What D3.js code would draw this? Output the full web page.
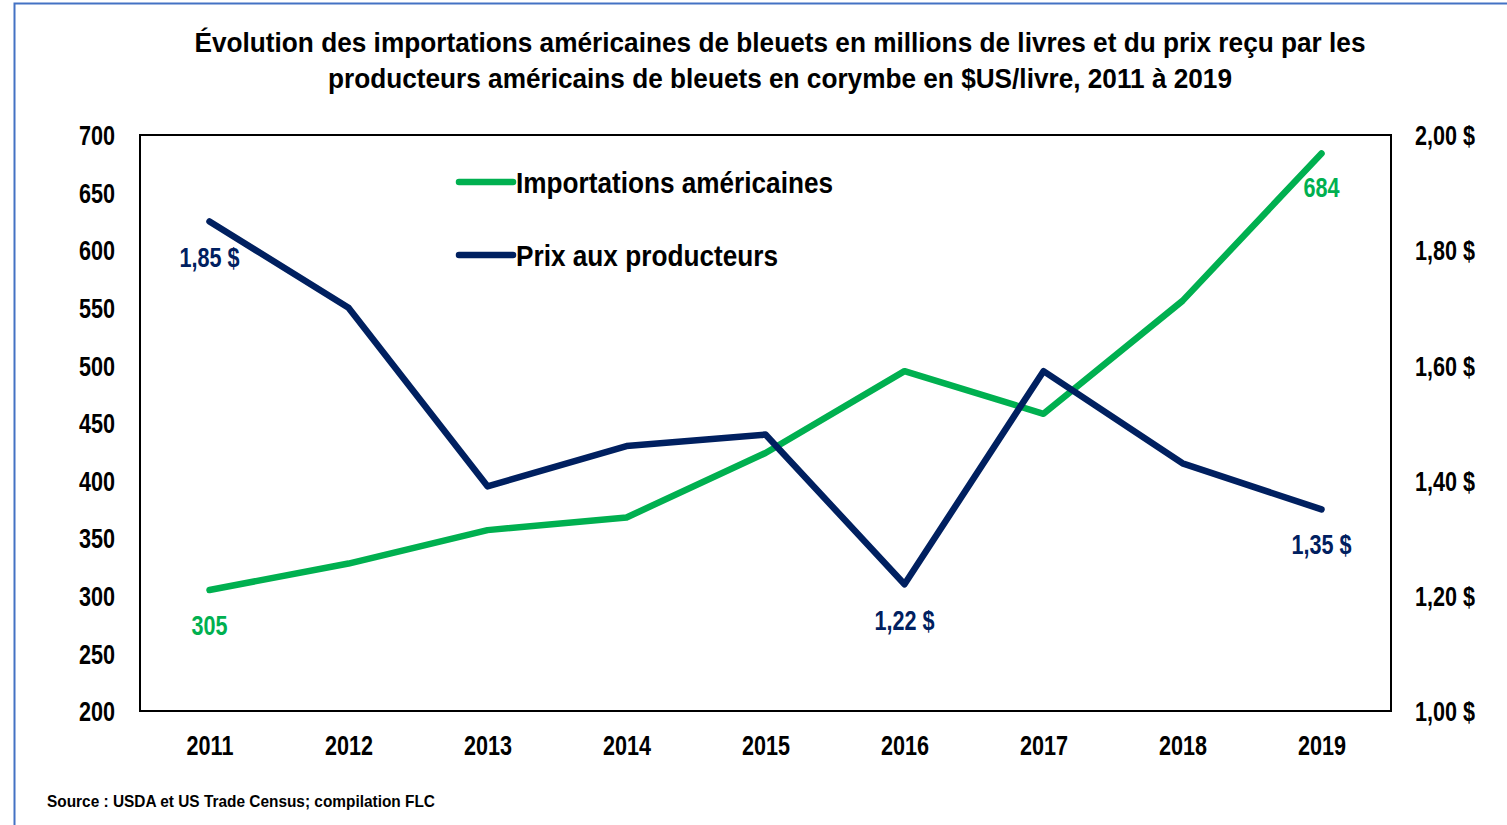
<!DOCTYPE html>
<html>
<head>
<meta charset="utf-8">
<script src="https://cdn.jsdelivr.net/npm/d3@7"></script>
<style>
  body { margin: 0; background: #fff; }
  svg text { font-family: "Liberation Sans", Arial, sans-serif; font-weight: bold; }
</style>
</head>
<body>
<div id="chart"></div>
<script>
// Width and height
var chart_width = 1507;
var chart_height = 825;

// data
var years = ["2011", "2012", "2013", "2014", "2015", "2016", "2017", "2018", "2019"];
var imports = [305, 328, 357, 368, 424, 495, 458, 556, 684];
var prices = [1.85, 1.70, 1.39, 1.46, 1.48, 1.22, 1.59, 1.43, 1.35];
var leftTicks = [200, 250, 300, 350, 400, 450, 500, 550, 600, 650, 700];
var rightTicks = [1.0, 1.2, 1.4, 1.6, 1.8, 2.0];
var titleLines = [
  "Évolution des importations américaines de bleuets en millions de livres et du prix reçu par les",
  "producteurs américains de bleuets en corymbe en $US/livre, 2011 à 2019"
];
var green = "#00B050";
var navy = "#002060";

var plot = {left: 140, right: 1391, top: 135, bottom: 711};

var svg = d3.select("#chart").append("svg")
  .attr("width", chart_width)
  .attr("height", chart_height);

// squeeze text to look like Arial Narrow
function narrow(sel, k) {
  sel.each(function() {
    var w = this.getComputedTextLength();
    d3.select(this).attr("textLength", w * (k || 0.82)).attr("lengthAdjust", "spacingAndGlyphs");
  });
}
function fitTo(sel, w) {
  sel.attr("textLength", w).attr("lengthAdjust", "spacingAndGlyphs");
}

// outer frame
svg.append("rect")
  .attr("x", 14.5).attr("y", 3.5)
  .attr("width", chart_width + 20).attr("height", chart_height + 20)
  .attr("fill", "none")
  .attr("stroke", "#4472C4")
  .attr("stroke-width", 2);

// title
var titleW = [1171, 904];
svg.selectAll(".title").data(titleLines).enter().append("text")
  .attr("class", "title")
  .attr("x", 780)
  .attr("y", function(d, i) { return 52 + i * 36; })
  .attr("text-anchor", "middle")
  .attr("font-size", 28)
  .attr("fill", "#000")
  .text(function(d) { return d; })
  .attr("textLength", function(d, i) { return titleW[i]; })
  .attr("lengthAdjust", "spacingAndGlyphs");

var x = d3.scalePoint().domain(years).range([plot.left, plot.right]).padding(0.5);
var yL = d3.scaleLinear().domain([200, 700]).range([plot.bottom, plot.top]);
var yR = d3.scaleLinear().domain([1, 2]).range([plot.bottom, plot.top]);

var fmtPrice = function(v) { return d3.format(".2f")(v).replace(".", ",") + " $"; };

// axes
var axL = svg.append("g").attr("transform", "translate(" + plot.left + ",0)")
  .call(d3.axisLeft(yL).tickValues(leftTicks).tickSize(0).tickPadding(25));
var axR = svg.append("g").attr("transform", "translate(" + plot.right + ",0)")
  .call(d3.axisRight(yR).tickValues(rightTicks).tickSize(0).tickPadding(24).tickFormat(fmtPrice));
var axB = svg.append("g").attr("transform", "translate(0," + plot.bottom + ")")
  .call(d3.axisBottom(x).tickSize(0).tickPadding(22));

[axL, axR, axB].forEach(function(g) {
  g.select(".domain").remove();
  g.selectAll("text").attr("font-size", 27).attr("fill", "#000")
    .style("font-family", "'Liberation Sans', Arial, sans-serif").style("font-weight", "bold");
  narrow(g.selectAll("text"), 0.8);
});
axL.selectAll("text").attr("dy", "0.36em");
axR.selectAll("text").attr("dy", "0.36em");
axB.selectAll("text").attr("dy", "0.82em");

// plot frame
svg.append("rect")
  .attr("x", plot.left).attr("y", plot.top)
  .attr("width", plot.right - plot.left).attr("height", plot.bottom - plot.top)
  .attr("fill", "none").attr("stroke", "#000").attr("stroke-width", 2);

// lines
var lineImp = d3.line().x(function(d, i) { return x(years[i]); }).y(function(d) { return yL(d); });
var linePrice = d3.line().x(function(d, i) { return x(years[i]); }).y(function(d) { return yR(d); });

svg.append("path").datum(imports).attr("d", lineImp)
  .attr("fill", "none").attr("stroke", green).attr("stroke-width", 6.5)
  .attr("stroke-linejoin", "round").attr("stroke-linecap", "round");
svg.append("path").datum(prices).attr("d", linePrice)
  .attr("fill", "none").attr("stroke", navy).attr("stroke-width", 6.5)
  .attr("stroke-linejoin", "round").attr("stroke-linecap", "round");

// data labels
var impLabels = [
  {i: 0, dy: 45},
  {i: 8, dy: 44}
];
impLabels.forEach(function(l) {
  var t = svg.append("text")
    .attr("x", x(years[l.i])).attr("y", yL(imports[l.i]) + l.dy)
    .attr("text-anchor", "middle").attr("font-size", 27).attr("fill", green)
    .text(imports[l.i]);
  narrow(t, 0.8);
});
var priceLabels = [
  {i: 0, dy: 46},
  {i: 5, dy: 46},
  {i: 8, dy: 45}
];
priceLabels.forEach(function(l) {
  var t = svg.append("text")
    .attr("x", x(years[l.i])).attr("y", yR(prices[l.i]) + l.dy)
    .attr("text-anchor", "middle").attr("font-size", 27).attr("fill", navy)
    .text(fmtPrice(prices[l.i]));
  narrow(t, 0.8);
});

// legend
var legend = [
  {name: "Importations américaines", color: green, w: 317},
  {name: "Prix aux producteurs", color: navy, w: 262}
];
var lg = svg.selectAll(".legend").data(legend).enter().append("g")
  .attr("transform", function(d, i) { return "translate(459," + (182 + i * 73) + ")"; });
lg.append("line")
  .attr("x1", 0).attr("x2", 54).attr("y1", 0).attr("y2", 0)
  .attr("stroke", function(d) { return d.color; })
  .attr("stroke-width", 6.5).attr("stroke-linecap", "round");
lg.append("text")
  .attr("x", 57).attr("y", 0).attr("dy", "0.36em")
  .attr("font-size", 30).attr("fill", "#000")
  .text(function(d) { return d.name; })
  .attr("textLength", function(d) { return d.w; })
  .attr("lengthAdjust", "spacingAndGlyphs");

// source
svg.append("text")
  .attr("x", 47).attr("y", 807)
  .attr("font-size", 17).attr("fill", "#000")
  .text("Source : USDA et US Trade Census; compilation FLC")
  .call(fitTo, 388);
</script>
</body>
</html>
